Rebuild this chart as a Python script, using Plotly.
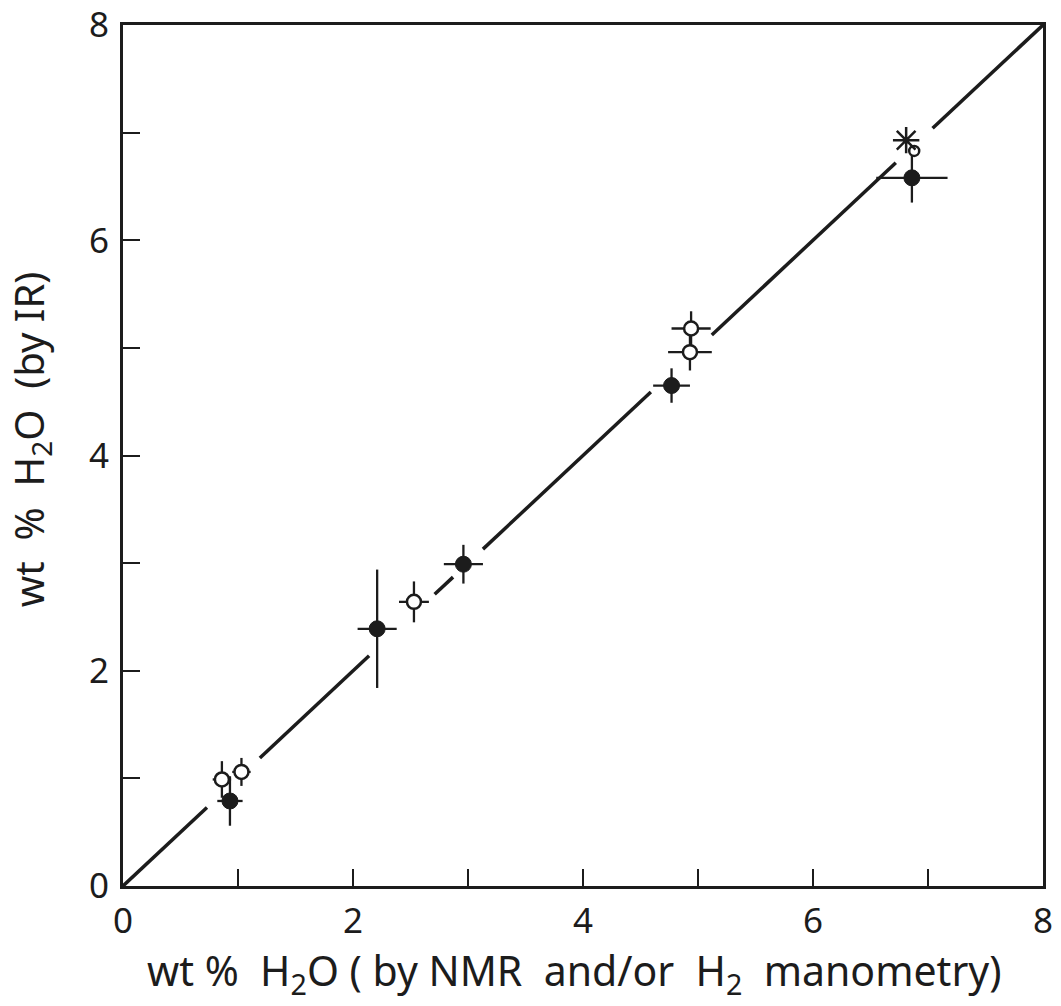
import plotly.graph_objects as go

# Filled circles
filled_x = [0.93, 2.21, 2.96, 4.77, 6.86]
filled_y = [0.79, 2.39, 2.99, 4.65, 6.58]
filled_ex = [0.11, 0.17, 0.17, 0.16, 0.31]
filled_ey = [0.23, 0.55, 0.18, 0.16, 0.23]

# Open circles with error bars
open_x = [0.86, 1.03, 2.53, 4.94, 4.93]
open_y = [0.99, 1.06, 2.64, 5.18, 4.96]
open_ex = [0.08, 0.08, 0.13, 0.17, 0.19]
open_ey = [0.17, 0.13, 0.19, 0.16, 0.17]

# Small open circle and asterisk (no error bars)
small_x = [6.88]
small_y = [6.83]
star_x = [6.81]
star_y = [6.93]

# 1:1 line, drawn broken around the points
seg_start = [0.0, 1.19, 2.71, 3.13, 5.12, 7.04]
seg_end = [0.73, 2.14, 2.87, 4.59, 6.72, 8.0]

tick_vals = [0, 1, 2, 3, 4, 5, 6, 7, 8]
tick_text = ["0", "", "2", "", "4", "", "6", "", "8"]

INK = "#1c1c1c"
FONT = "Noto Sans"

fig = go.Figure()

lx, ly = [], []
for a, b in zip(seg_start, seg_end):
    lx += [a, b, None]
    ly += [a, b, None]
fig.add_trace(go.Scatter(x=lx, y=ly, mode="lines",
                         line=dict(color=INK, width=3.5), showlegend=False,
                         hoverinfo="skip"))

eb = dict(type="data", color=INK, thickness=2.3, width=0)

fig.add_trace(go.Scatter(
    x=open_x, y=open_y, mode="markers",
    error_x=dict(array=open_ex, **eb), error_y=dict(array=open_ey, **eb),
    marker=dict(symbol="circle", size=14, color="white",
                line=dict(color=INK, width=2.5)),
    showlegend=False))

fig.add_trace(go.Scatter(
    x=filled_x, y=filled_y, mode="markers",
    error_x=dict(array=filled_ex, **eb), error_y=dict(array=filled_ey, **eb),
    marker=dict(symbol="circle", size=16, color=INK,
                line=dict(color=INK, width=1)),
    showlegend=False))

fig.add_trace(go.Scatter(
    x=small_x, y=small_y, mode="markers",
    marker=dict(symbol="circle", size=10, color="white",
                line=dict(color=INK, width=2.5)),
    showlegend=False))

fig.add_trace(go.Scatter(
    x=star_x, y=star_y, mode="markers",
    marker=dict(symbol="asterisk-open", size=22, color=INK,
                line=dict(color=INK, width=2.5)),
    showlegend=False))

axis_common = dict(
    range=[0, 8], tickmode="array", tickvals=tick_vals, ticktext=tick_text,
    ticks="inside", ticklen=17, tickwidth=2, tickcolor=INK,
    showline=True, linewidth=3, linecolor=INK, mirror=True,
    showgrid=False, zeroline=False, ticklabeloverflow="allow",
    automargin=False,
    tickfont=dict(family=FONT, size=35, color=INK),
)

fig.update_xaxes(**axis_common, ticklabelstandoff=2)
fig.update_yaxes(**axis_common, ticklabelstandoff=4)

fig.update_layout(
    width=1061, height=1006,
    margin=dict(l=123, r=18, t=25, b=120, autoexpand=False),
    paper_bgcolor="white", plot_bgcolor="white",
    font=dict(family=FONT, color=INK),
    annotations=[
        dict(text="wt %  H<sub>2</sub>O ( by NMR  and/or  H<sub>2</sub>  manometry)",
             xref="paper", yref="paper", x=0.491, y=-0.1,
             xanchor="center", yanchor="middle", showarrow=False,
             font=dict(family=FONT, size=41, color=INK)),
        dict(text="wt  %  H<sub>2</sub>O  (by IR)",
             xref="paper", yref="paper", x=-0.101, y=0.519,
             xanchor="center", yanchor="middle", showarrow=False,
             textangle=-90,
             font=dict(family=FONT, size=40, color=INK)),
    ],
)

fig.write_html("out.html")
